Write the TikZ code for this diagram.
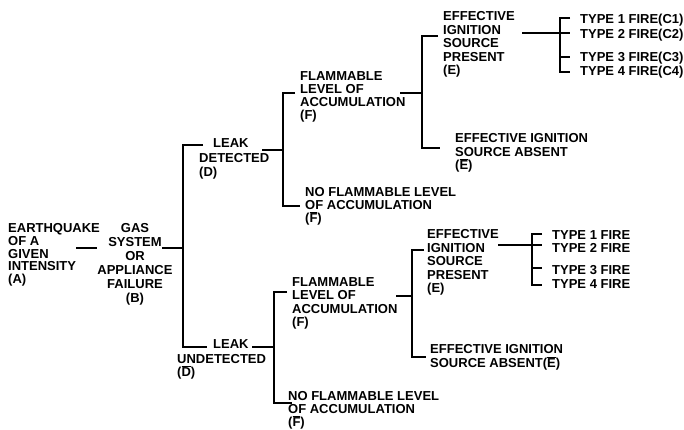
\documentclass[tikz,border=0pt]{standalone}
\usepackage{fontspec}
\setmainfont{Liberation Sans}
\newcommand{\negd}[1]{$\overline{\mbox{#1}}$}
\begin{document}
\begin{tikzpicture}[x=1pt,y=-1pt,
  lbl/.style={anchor=north west, inner sep=0pt, align=left, font=\bfseries\fontsize{13}{13.5}\selectfont},
  wire/.style={line width=2.3pt, line join=miter},
  brk/.style={line width=2.8pt, line join=miter}]
\useasboundingbox (0,0) rectangle (684,430);

% ---------- text nodes ----------
\node[lbl] (A) at (8,223.3) {EARTHQUAKE\\[-0.7pt]OF A\\[-0.7pt]GIVEN\\[-0.7pt]INTENSITY\\[-0.7pt](A)};
\node[lbl, anchor=north, align=center] (B) at (135,223.3) {GAS\\[0.5pt]SYSTEM\\[0.5pt]OR\\[0.5pt]APPLIANCE\\[0.5pt]FAILURE\\[0.5pt](B)};
\node[lbl] (D) at (199,138.8) {\hspace*{14pt}LEAK\\[1.5pt]DETECTED\\(D)};
\node[lbl] (Dn) at (177,339.3) {\hspace*{36pt}LEAK\\[1.5pt]UNDETECTED\\(\negd{D})};
\node[lbl] (F1) at (300,71.3) {FLAMMABLE\\[-0.5pt]LEVEL OF\\[-0.5pt]ACCUMULATION\\[-0.5pt](F)};
\node[lbl] (NF1) at (305,187.3) {NO FLAMMABLE LEVEL\\[-0.5pt]OF ACCUMULATION\\[-0.5pt](\negd{F})};
\node[lbl] (E1) at (443,11.3) {EFFECTIVE\\IGNITION\\SOURCE\\PRESENT\\(E)};
\node[lbl] (NE1) at (455,133.3) {EFFECTIVE IGNITION\\SOURCE ABSENT\\(\negd{E})};
\node[lbl] (T11) at (580,14.3) {TYPE 1 FIRE(C1)};
\node[lbl] (T12) at (580,29.3) {TYPE 2 FIRE(C2)};
\node[lbl] (T13) at (580,52.3) {TYPE 3 FIRE(C3)};
\node[lbl] (T14) at (580,66.3) {TYPE 4 FIRE(C4)};
\node[lbl] (F2) at (292,277.3) {FLAMMABLE\\LEVEL OF\\ACCUMULATION\\(F)};
\node[lbl] (NF2) at (288,391.3) {NO FLAMMABLE LEVEL\\[-0.5pt]OF ACCUMULATION\\[-0.5pt](\negd{F})};
\node[lbl] (E2) at (427,229.3) {EFFECTIVE\\IGNITION\\SOURCE\\PRESENT\\(E)};
\node[lbl] (NE2) at (430,344.3) {EFFECTIVE IGNITION\\SOURCE ABSENT(\negd{E})};
\node[lbl] (T21) at (552,230.3) {TYPE 1 FIRE};
\node[lbl] (T22) at (552,243.3) {TYPE 2 FIRE};
\node[lbl] (T23) at (552,265.3) {TYPE 3 FIRE};
\node[lbl] (T24) at (552,279.3) {TYPE 4 FIRE};

% ---------- junction coordinates ----------
\coordinate (ab1) at (76,248);   \coordinate (ab2) at (97,248);
\coordinate (bo) at (162,248);   \coordinate (j1m) at (183,248);
\coordinate (j1t) at (183,145);  \coordinate (j1b) at (183,347);
\coordinate (d1i) at (203,145);  \coordinate (d2i) at (207,347);
\coordinate (d1o) at (262,150);  \coordinate (j2m) at (283,150);
\coordinate (j2t) at (283,93);   \coordinate (j2b) at (283,206);
\coordinate (f1i) at (295,93);   \coordinate (nf1i) at (300,206);
\coordinate (f1o) at (400,93);   \coordinate (j3m) at (422,93);
\coordinate (j3t) at (422,36);   \coordinate (j3b) at (422,148);
\coordinate (e1i) at (438,36);   \coordinate (ne1i) at (440,148);
\coordinate (e1o) at (522,33);   \coordinate (j4m) at (560,33);
\coordinate (j4t) at (560,18);   \coordinate (j4b) at (560,72);
\coordinate (t11i) at (570,18);  \coordinate (t12i) at (570,33);
\coordinate (t13i) at (570,57);  \coordinate (t14i) at (570,72);
\coordinate (j4c) at (560,57);
\coordinate (d2o) at (252,347);  \coordinate (j5m) at (274,347);
\coordinate (j5t) at (274,292);  \coordinate (j5b) at (274,403);
\coordinate (f2i) at (287,292);  \coordinate (nf2i) at (292,403);
\coordinate (f2o) at (396,296);  \coordinate (j6m) at (412,296);
\coordinate (j6t) at (412,250);  \coordinate (j6b) at (412,357);
\coordinate (e2i) at (424,250);  \coordinate (ne2i) at (426,357);
\coordinate (e2o) at (498,245);  \coordinate (j7m) at (532,245);
\coordinate (j7t) at (532,234);  \coordinate (j7b) at (532,285);
\coordinate (t21i) at (542,234); \coordinate (t22i) at (542,245);
\coordinate (t23i) at (542,268); \coordinate (t24i) at (542,285);
\coordinate (j7c) at (532,268);

% ---------- connectors ----------
\draw[wire] (ab1) -- (ab2);
\draw[wire] (bo) -- (j1m);
\draw[brk] (d1i) -- (j1t) -- (j1b) -- (d2i);
\draw[wire] (d1o) -- (j2m);
\draw[brk] (f1i) -- (j2t) -- (j2b) -- (nf1i);
\draw[wire] (f1o) -- (j3m);
\draw[brk] (e1i) -- (j3t) -- (j3b) -- (ne1i);
\draw[wire] (e1o) -- (t12i);
\draw[brk] (t11i) -- (j4t) -- (j4b) -- (t14i);
\draw[wire] (j4c) -- (t13i);
\draw[wire] (d2o) -- (j5m);
\draw[brk] (f2i) -- (j5t) -- (j5b) -- (nf2i);
\draw[wire] (f2o) -- (j6m);
\draw[brk] (e2i) -- (j6t) -- (j6b) -- (ne2i);
\draw[wire] (e2o) -- (t22i);
\draw[brk] (t21i) -- (j7t) -- (j7b) -- (t24i);
\draw[wire] (j7c) -- (t23i);
\end{tikzpicture}
\end{document}
